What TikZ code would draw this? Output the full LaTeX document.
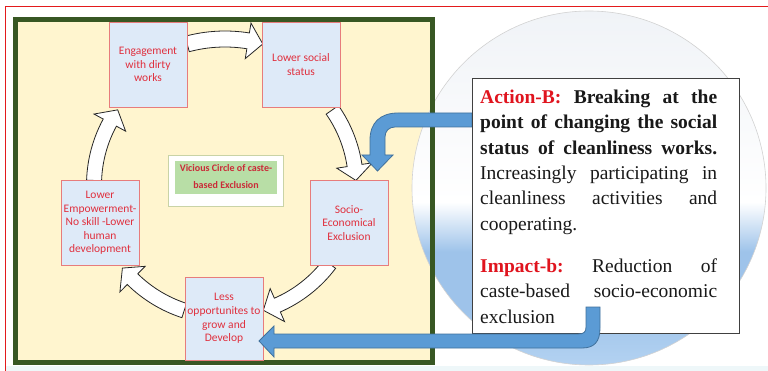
\documentclass[tikz,border=0pt]{standalone}
\usepackage{fontspec}
\setmainfont{Liberation Serif}
\newfontfamily\tnr{Liberation Serif}
\newfontfamily\carlito{Carlito}
\definecolor{redframe}{HTML}{E31A1C}
\definecolor{gframe}{HTML}{385723}
\definecolor{yfill}{HTML}{FFF5CF}
\definecolor{bfill}{HTML}{DEEAF8}
\definecolor{bdraw}{HTML}{E77C7C}
\definecolor{btext}{HTML}{E0303E}
\definecolor{gfill}{HTML}{B8DEA6}
\definecolor{gbord}{HTML}{C9D3A6}
\definecolor{ablue}{HTML}{5B9BD5}
\definecolor{ablued}{HTML}{41719C}
\definecolor{actred}{HTML}{E0141E}
\definecolor{cbA}{HTML}{9EC3EA}
\definecolor{cbB}{HTML}{B3D2F1}
\definecolor{cgray}{HTML}{F0F3F7}
\definecolor{stripc}{HTML}{EEF7F9}
\pgfdeclareverticalshading{circshade}{100bp}{color(0bp)=(cbB); color(25bp)=(cbB); color(33bp)=(cbA); color(41bp)=(cbA); color(48bp)=(white); color(75bp)=(cgray); color(100bp)=(cgray)}
\newcommand{\cyclearrow}[4]{%
  \pgfmathsetmacro\ra{#1+#4}%
  \pgfmathsetmacro\rb{#1-#4}%
  \pgfmathsetmacro\rha{#1+18}%
  \pgfmathsetmacro\rhb{#1-18}%
  \pgfmathsetmacro\ah{#3-15/#1*57.2958}%
  \draw[cyc] (#2:\ra) arc[start angle=#2,end angle=\ah,radius=\ra] -- (\ah:\rha) -- (#3:#1) -- (\ah:\rhb) -- (\ah:\rb) arc[start angle=\ah,end angle=#2,radius=\rb] -- cycle;}
\newcommand{\jline}[1]{\leavevmode\hbox to 237pt{#1}}
\begin{document}
\begin{tikzpicture}[x=1pt,y=-1pt,
  cbox/.style={draw=bdraw, line width=0.8pt, fill=bfill, minimum width=78pt, minimum height=85pt, inner sep=0pt, align=center, text=btext, font=\carlito\fontsize{11.5}{13.6}\selectfont},
  cyc/.style={draw=black!85, line width=0.8pt, fill=white},
  blue/.style={draw=ablued, line width=0.8pt, fill=ablue},
  tbox/.style={draw=black!75, line width=1pt, fill=white, inner sep=0pt}]
\useasboundingbox (0,0) rectangle (768,371);
\fill[white] (0,0) rectangle (768,371);
\fill[stripc] (6,366) rectangle (768,371);
\draw[redframe, line width=1pt] (768,7) -- (5,7) -- (5,371);
% yellow panel
\fill[yfill] (15.5,19.5) rectangle (432.5,362.5);
% big circle
\shade[shading=circshade, draw=gray!35, line width=0.6pt] (589,188) circle[radius=177];
% green frame
\draw[gframe, line width=5pt] (15.5,19.5) rectangle (432.5,362.5);
% cycle arrows
\begin{scope}[shift={(225,185)}]
  \cyclearrow{146}{255}{285}{8}
  \cyclearrow{131}{325}{358}{7.5}
  \cyclearrow{131}{37}{73}{7.5}
  \cyclearrow{132}{108}{141}{7.5}
  \cyclearrow{131}{182}{215}{7.5}
\end{scope}
% boxes
\node[cbox] (eng) at (148,64.5) {Engagement\\with dirty\\works};
\node[cbox] (low) at (301,64.5) {Lower social\\status};
\node[cbox] (soc) at (349,223) {Socio-\\Economical\\Exclusion};
\node[cbox, minimum height=83pt] (less) at (224,318.5) {Less\\opportunites to\\grow and\\Develop};
\node[cbox] (emp) at (100,223) {Lower\\Empowerment-\\No skill -Lower\\human\\development};
% centre label
\node[draw=gbord, line width=1pt, fill=white, minimum width=115pt, minimum height=51pt, inner sep=0pt] (vcbox) at (225.5,181.5) {};
\node[fill=gfill, minimum width=102pt, minimum height=33pt, inner sep=0pt] (vcin) at (226,177.5) {};
\node[align=center, text=btext!90!black, font=\carlito\bfseries\fontsize{10}{16.4}\selectfont, inner sep=0pt] (vc) at (226,176.5) {Vicious Circle of caste-\\based Exclusion};
% upper blue arrow
\draw[blue] (472,113) -- (398,113) .. controls (380,113) and (370,123) .. (370,140) -- (370,155) -- (362,155) -- (377.5,171) -- (393,155) -- (385,155) -- (385,137) .. controls (385,131) and (389,127) .. (395,127) -- (472,127) -- cycle;
% text box
\node[tbox, minimum width=267pt, minimum height=255pt, anchor=north west] (tb) at (472,78) {};
\node[anchor=north west, text width=237pt, inner sep=0pt, align=left, text=black!90, font=\tnr\fontsize{19.5}{25.4}\selectfont] (tbt) at (480,89.6) {%
\jline{\textbf{\textcolor{actred}{Action-B:}}\hfill\textbf{Breaking}\hfill\textbf{at}\hfill\textbf{the}}\\
\jline{\textbf{point}\hfill\textbf{of}\hfill\textbf{changing}\hfill\textbf{the}\hfill\textbf{social}}\\
\jline{\textbf{status}\hfill\textbf{of}\hfill\textbf{cleanliness}\hfill\textbf{works.}}\\
\jline{Increasingly\hfill participating\hfill in}\\
\jline{cleanliness\hfill activities\hfill and}\\
cooperating.\\[16.6pt]
\jline{\textbf{\textcolor{actred}{Impact-b:}}\hfill Reduction\hfill of}\\
\jline{caste-based\hfill socio-economic}\\
exclusion};
% lower blue arrow
\draw[blue] (586,307) -- (600,307) -- (600,328) .. controls (600,342) and (594,348) .. (582,348) -- (274,348) -- (274,357) -- (259,341) -- (274,326) -- (274,334) -- (578,334) .. controls (584,334) and (586,332) .. (586,327) -- cycle;
\end{tikzpicture}
\end{document}
